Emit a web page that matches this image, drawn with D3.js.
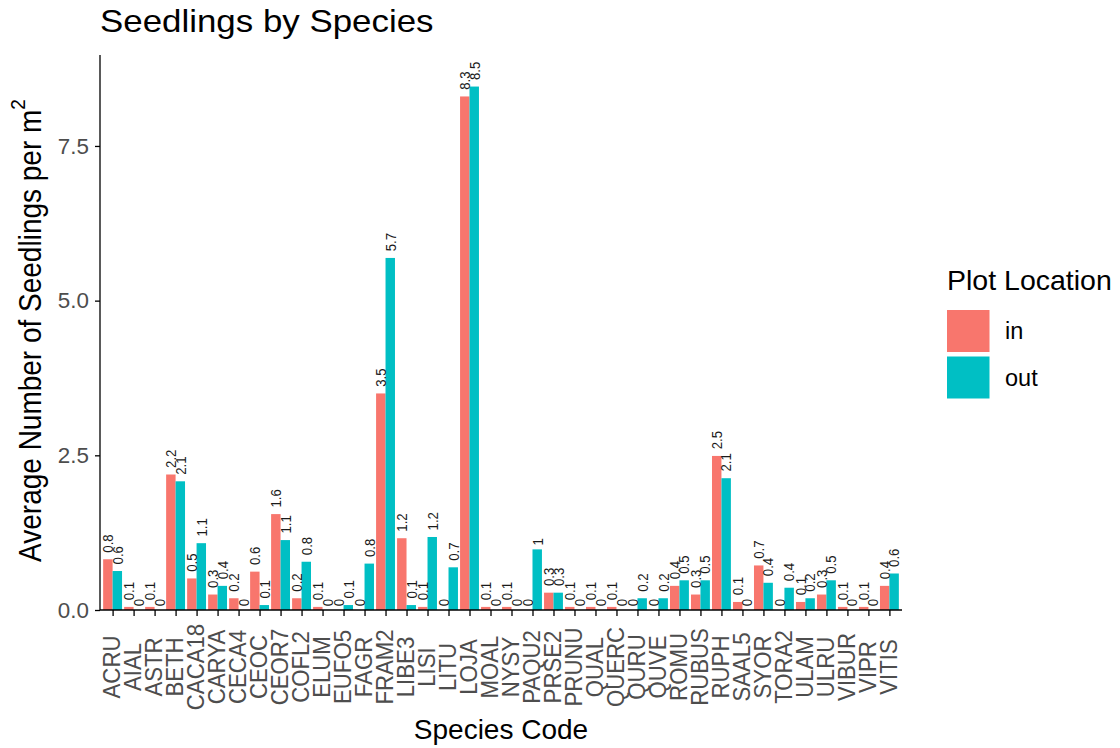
<!DOCTYPE html>
<html>
<head>
<meta charset="utf-8">
<script src="https://cdn.jsdelivr.net/npm/d3@7"></script>
<style>
  html, body { margin: 0; padding: 0; background: #ffffff; }
  svg { display: block; font-family: "Liberation Sans", Arial, sans-serif; }
</style>
</head>
<body>
<svg id="chart" width="1120" height="748"></svg>
<script>
const categories = ["ACRU","AIAL","ASTR","BETH","CACA18","CARYA","CECA4","CEOC","CEOR7","COFL2",
  "ELUM","EUFO5","FAGR","FRAM2","LIBE3","LISI","LITU","LOJA","MOAL","NYSY",
  "PAQU2","PRSE2","PRUNU","QUAL","QUERC","QURU","QUVE","ROMU","RUBUS","RUPH",
  "SAAL5","SYOR","TORA2","ULAM","ULRU","VIBUR","VIPR","VITIS"];
const inValues = [0.82,0.05,0.05,2.19,0.51,0.25,0.19,0.62,1.55,0.19,
  0.05,0,0,3.5,1.16,0.05,0,8.3,0.05,0.05,
  0,0.28,0.05,0.05,0.05,0,0,0.39,0.25,2.49,
  0.13,0.72,0,0.13,0.25,0.05,0.05,0.39];
const outValues = [0.63,0,0,2.08,1.08,0.39,0,0.08,1.13,0.78,
  0,0.08,0.75,5.69,0.08,1.18,0.69,8.46,0,0,
  0.98,0.28,0,0,0,0.19,0.19,0.48,0.48,2.13,
  0,0.44,0.36,0.19,0.48,0,0,0.59];
const groups = ["in","out"];
const groupColors = ["#F8766D","#00BFC4"];
const yTicks = [0, 2.5, 5.0, 7.5];

(function () {
const svg = d3.select("#chart");
const pLeft = 100, pRight = 902, pTop = 55, pBottom = 610;

const x = d3.scalePoint().domain(categories).range([pLeft, pRight]).padding(0.6);
const step = x.step();
const dodge = d3.scaleBand().domain(groups).range([-step * 0.45, step * 0.45]).padding(0);
const y = d3.scaleLinear().domain([0, 8.97]).range([pBottom, pTop]);
const color = d3.scaleOrdinal().domain(groups).range(groupColors);

const rows = [];
categories.forEach((c, i) => {
  rows.push({cat: c, group: "in", value: inValues[i]});
  rows.push({cat: c, group: "out", value: outValues[i]});
});

// bars
svg.append("g").selectAll("rect").data(rows).join("rect")
  .attr("x", d => x(d.cat) + dodge(d.group))
  .attr("width", dodge.bandwidth())
  .attr("y", d => y(d.value))
  .attr("height", d => y(0) - y(d.value))
  .attr("fill", d => color(d.group));

// value labels
const lab = svg.append("g").selectAll("text").data(rows).join("text")
  .attr("font-size", 13.2)
  .attr("fill", "#1a1a1a")
  .attr("dy", "0.35em")
  .text(d => String(+d.value.toFixed(1)));
lab.each(function(d) {
  const len = this.getComputedTextLength();
  const cx = x(d.cat) + dodge(d.group) + dodge.bandwidth() / 2;
  const cy = y(d.value) - (2 + 0.25 * len);
  d3.select(this).attr("transform", `translate(${cx},${cy}) rotate(-90) scale(1,1.15)`);
});

// axes
const yAxis = svg.append("g").attr("transform", `translate(${pLeft},0)`)
  .call(d3.axisLeft(y).tickValues(yTicks).tickFormat(d3.format(".1f")).tickSize(5).tickPadding(6));
yAxis.select(".domain").attr("stroke", "#000").attr("stroke-width", 1.3).attr("d", `M0,${pTop}V${pBottom}`);
yAxis.selectAll(".tick line").attr("stroke", "#000").attr("stroke-width", 1.3);
yAxis.selectAll(".tick text").attr("fill", "#4D4D4D").attr("font-size", 22.4)
  .attr("font-family", "Liberation Sans, Arial, sans-serif");

const xAxis = svg.append("g").attr("transform", `translate(0,${pBottom})`)
  .call(d3.axisBottom(x).tickSize(6).tickSizeOuter(0));
xAxis.select(".domain").attr("stroke", "#000").attr("stroke-width", 1.3).attr("d", `M${pLeft},0H${pRight}`);
xAxis.selectAll(".tick line").attr("stroke", "#000").attr("stroke-width", 1.3);
xAxis.selectAll(".tick text")
  .attr("fill", "#4D4D4D").attr("font-size", 22.2)
  .attr("font-family", "Liberation Sans, Arial, sans-serif")
  .attr("text-anchor", "middle")
  .attr("y", 0).attr("dy", "0.35em")
  .attr("transform", "translate(-1,57) rotate(-90) scale(1,1.07)");

// title
svg.append("text").attr("transform", "translate(100,32) scale(1.09,1)")
  .attr("font-size", 32).attr("fill", "#000").text("Seedlings by Species");

// axis titles
svg.append("text").attr("x", (pLeft + pRight) / 2).attr("y", 739)
  .attr("text-anchor", "middle").attr("font-size", 28).attr("fill", "#000").text("Species Code");

const yt = svg.append("text")
  .attr("transform", `translate(41,${(pTop + pBottom) / 2 - 2}) rotate(-90) scale(1,1.1)`)
  .attr("text-anchor", "middle").attr("font-size", 28).attr("fill", "#000");
yt.append("tspan").text("Average Number of Seedlings per m");
yt.append("tspan").attr("font-size", 19).attr("dy", "-0.75em").text("2");

// legend
const lg = svg.append("g");
lg.append("text").attr("x", 947).attr("y", 290).attr("font-size", 28.5).attr("fill", "#000").text("Plot Location");
groups.forEach((g, i) => {
  const yy = 310 + i * 46.5;
  lg.append("rect").attr("x", 947).attr("y", yy).attr("width", 42.5).attr("height", 42)
    .attr("fill", color(g));
  lg.append("text").attr("x", 1005).attr("y", yy + 21).attr("dy", "0.35em")
    .attr("font-size", 23.5).attr("fill", "#000").text(g);
});
})();
</script>
</body>
</html>
